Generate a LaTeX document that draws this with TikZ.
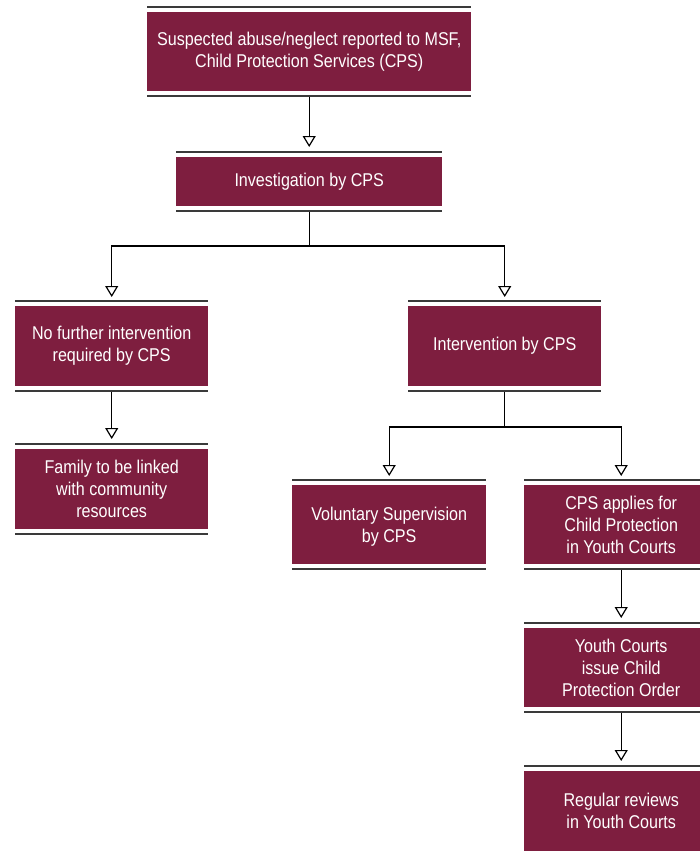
\documentclass[tikz,border=0pt]{standalone}
\usepackage{fontspec}
\setmainfont{Liberation Sans}[FakeStretch=0.87]
\usetikzlibrary{arrows.meta}
\definecolor{maroon}{HTML}{7E1E3F}
\definecolor{rulegray}{HTML}{3A3A3A}
\begin{document}
\begin{tikzpicture}[x=1pt,y=-1pt,
  box/.style={rectangle, fill=maroon, text=white, inner sep=0pt, anchor=north west, align=center,
    font=\fontsize{18.5}{22}\selectfont},
  rulez/.style={draw=rulegray, line width=1.8pt},
  arr/.style={draw=black, line width=1.2pt, -{Triangle[open, length=11pt, width=13pt, line width=1.2pt]}}]
\useasboundingbox (0,0) rectangle (699,851);
\node[box, minimum width=324pt, minimum height=79pt] (b1) at (147,12) {Suspected abuse/neglect reported to MSF,\\Child Protection Services (CPS)};
\node[box, minimum width=266pt, minimum height=49pt] (b2) at (176,157) {Investigation by CPS};
\node[box, minimum width=193pt, minimum height=80pt] (b3) at (15,306) {No further intervention\\required by CPS};
\node[box, minimum width=193pt, minimum height=80pt] (b4) at (15,449) {Family to be linked\\with community\\resources};
\node[box, minimum width=193pt, minimum height=80pt] (b5) at (408,306) {Intervention by CPS};
\node[box, minimum width=194pt, minimum height=79pt, text depth=-6pt] (b6) at (292,485) {Voluntary Supervision\\by CPS};
\node[box, minimum width=194pt, minimum height=79pt] (b7) at (524,485) {CPS applies for\\Child Protection\\in Youth Courts};
\node[box, minimum width=194pt, minimum height=79pt] (b8) at (524,628) {Youth Courts\\issue Child\\Protection Order};
\node[box, minimum width=194pt, minimum height=80pt] (b9) at (524,771) {Regular reviews\\in Youth Courts};
% rules
\foreach \n in {b1,b2,b3,b4,b5,b6,b7,b8,b9}{
  \draw[rulez] ([yshift=5pt]\n.north west) -- ([yshift=5pt]\n.north east);
}
\foreach \n in {b1,b2,b3,b4,b5,b6,b7,b8}{
  \draw[rulez] ([yshift=-4.5pt]\n.south west) -- ([yshift=-4.5pt]\n.south east);
}
% connectors
\draw[arr] ([yshift=-5.5pt]b1.south) -- ([yshift=10pt]b2.north);
\draw[arr] ([yshift=-5.5pt]b2.south) -- ++(0,34) -| ([yshift=9pt]b3.north);
\draw[arr] ([yshift=-5.5pt]b2.south) -- ++(0,34) -| ([yshift=9pt]b5.north);
\draw[arr] ([yshift=-5.5pt]b3.south) -- ([yshift=10pt]b4.north);
\draw[arr] ([yshift=-5.5pt]b5.south) -- ++(0,35) -| ([yshift=9pt]b6.north);
\draw[arr] ([yshift=-5.5pt]b5.south) -- ++(0,35) -| ([yshift=9pt]b7.north);
\draw[arr] ([yshift=-5.5pt]b7.south) -- ([yshift=10pt]b8.north);
\draw[arr] ([yshift=-5.5pt]b8.south) -- ([yshift=10pt]b9.north);
\end{tikzpicture}
\end{document}
